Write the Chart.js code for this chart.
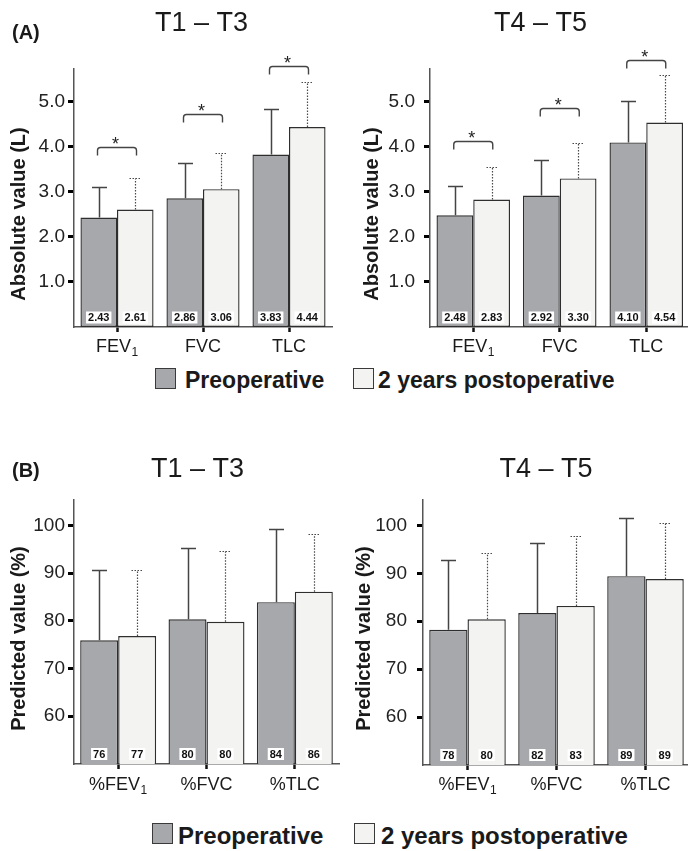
<!DOCTYPE html>
<html><head><meta charset="utf-8">
<script src="https://cdn.jsdelivr.net/npm/chart.js@4.4.1/dist/chart.umd.min.js"></script>
<style>
html,body{margin:0;padding:0;background:#fff;width:688px;height:851px;overflow:hidden;position:relative;font-family:"Liberation Sans",Arial,sans-serif;}
canvas{position:absolute;}
.sw{position:absolute;width:21px;height:21px;box-sizing:border-box;border:1.5px solid #3a3a3a;}
.lt{position:absolute;font-weight:bold;line-height:1;color:#1a1a1a;white-space:nowrap;}
</style></head><body>
<canvas id="cA1"></canvas>
<canvas id="cA2"></canvas>
<canvas id="cB1"></canvas>
<canvas id="cB2"></canvas>

<div class="sw" style="left:155px;top:368px;background:#a7a8ac"></div>
<div class="lt" style="left:185px;top:368.5px;font-size:23px">Preoperative</div>
<div class="sw" style="left:353px;top:368px;background:#f3f4f2"></div>
<div class="lt" style="left:378px;top:368.5px;font-size:23px">2 years postoperative</div>

<div class="sw" style="left:152px;top:823px;background:#a7a8ac"></div>
<div class="lt" style="left:178px;top:823.7px;font-size:24px">Preoperative</div>
<div class="sw" style="left:354px;top:823px;background:#f3f4f2"></div>
<div class="lt" style="left:381px;top:823.7px;font-size:24px">2 years postoperative</div>

<script>
// ---------- data ----------
const absCategories = ['FEV1', 'FVC', 'TLC'];
const predCategories = ['%FEV1', '%FVC', '%TLC'];
const absTicks = [1, 2, 3, 4, 5];
const predTicks = [60, 70, 80, 90, 100];
const groupTitles = ['T1 \u2013 T3', 'T4 \u2013 T5'];
const seriesNames = ['Preoperative', '2 years postoperative'];

// (A) absolute values (L): means and SD
const t13AbsPre = [2.43, 2.86, 3.83];
const t13AbsPost = [2.61, 3.06, 4.44];
const t13AbsPreSd = [0.67, 0.78, 1.02];
const t13AbsPostSd = [0.69, 0.81, 1.01];
const t13AbsSignif = [true, true, true];
const t13AbsBracketLevel = [4.00, 4.73, 5.80];

const t45AbsPre = [2.48, 2.92, 4.10];
const t45AbsPost = [2.83, 3.30, 4.54];
const t45AbsPreSd = [0.65, 0.79, 0.93];
const t45AbsPostSd = [0.72, 0.78, 1.05];
const t45AbsSignif = [true, true, true];
const t45AbsBracketLevel = [4.12, 4.86, 5.93];

// (B) predicted values (%): means and SD
const t13PredPre = [75.9, 80.3, 83.9];
const t13PredPost = [76.8, 79.8, 86.1];
const t13PredPreSd = [14.8, 14.9, 15.3];
const t13PredPostSd = [13.9, 14.9, 12.1];

const t45PredPre = [78.2, 81.7, 89.4];
const t45PredPost = [80.4, 83.2, 88.8];
const t45PredPreSd = [14.6, 14.6, 12.2];
const t45PredPostSd = [13.9, 14.6, 11.8];

// ---------- drawing ----------
const FONT = '"Liberation Sans", Arial, sans-serif';
const PRE_COLOR = '#a7a8ac';
const POST_COLOR = '#f3f4f2';
const EDGE = '#2e2e2e';

function makePanel(o) {
  const canvas = document.getElementById(o.id);
  canvas.width = o.w; canvas.height = o.h;
  canvas.style.left = o.ox + 'px'; canvas.style.top = o.oy + 'px';
  canvas.style.width = o.w + 'px'; canvas.style.height = o.h + 'px';

  const overlay = {
    id: 'overlay_' + o.id,
    afterDatasetsDraw(chart) {
      const ctx = chart.ctx, ys = chart.scales.y, xs = chart.scales.x;
      ctx.save();
      // error bars
      const sets = [[o.pre, o.preSd, false], [o.post, o.postSd, true]];
      sets.forEach((s, di) => {
        const meta = chart.getDatasetMeta(di);
        meta.data.forEach((bar, j) => {
          const x = Math.round(bar.x) + 0.5;
          const y0 = ys.getPixelForValue(s[0][j]);
          const y1 = Math.round(ys.getPixelForValue(s[0][j] + s[1][j])) + 0.5;
          ctx.beginPath();
          let cw;
          if (s[2]) { ctx.setLineDash([1.5, 1.5]); ctx.lineWidth = 1.2; ctx.strokeStyle = '#4a4a4a'; cw = 6; }
          else { ctx.setLineDash([]); ctx.lineWidth = 1.5; ctx.strokeStyle = '#444'; cw = 7.5; }
          ctx.moveTo(x, y0); ctx.lineTo(x, y1);
          ctx.moveTo(x - cw, y1); ctx.lineTo(x + cw, y1);
          ctx.stroke();
        });
      });
      ctx.setLineDash([]);
      // value labels at bar bottoms
      ctx.font = 'bold 11px ' + FONT;
      ctx.textAlign = 'center'; ctx.textBaseline = 'middle';
      [o.pre, o.post].forEach((vals, di) => {
        const meta = chart.getDatasetMeta(di);
        meta.data.forEach((bar, j) => {
          const t = o.fmt(vals[j]);
          const w = ctx.measureText(t).width;
          const cy = ys.getPixelForValue(o.min) - o.lblOff;
          ctx.fillStyle = '#fff';
          ctx.fillRect(bar.x - w / 2 - 2, cy - 6, w + 4, 12);
          ctx.fillStyle = '#111';
          ctx.fillText(t, bar.x, cy + 0.5);
        });
      });
      // significance brackets
      if (o.signif) {
        ctx.strokeStyle = '#444'; ctx.lineWidth = 1.4;
        ctx.fillStyle = '#222';
        ctx.font = '18px ' + FONT; ctx.textAlign = 'center'; ctx.textBaseline = 'alphabetic';
        o.signif.forEach((sig, j) => {
          if (!sig) return;
          const cx = xs.getPixelForValue(j);
          const y = Math.round(ys.getPixelForValue(o.bracket[j])) + 0.5;
          const hw = 19.5, r = 3, drop = 8;
          ctx.beginPath();
          ctx.moveTo(cx - hw, y + drop);
          ctx.lineTo(cx - hw, y + r);
          ctx.quadraticCurveTo(cx - hw, y, cx - hw + r, y);
          ctx.lineTo(cx + hw - r, y);
          ctx.quadraticCurveTo(cx + hw, y, cx + hw, y + r);
          ctx.lineTo(cx + hw, y + drop);
          ctx.stroke();
          ctx.fillText('*', cx - 1.5, y + 2.5);
        });
      }
      ctx.restore();
    },
    afterDraw(chart) {
      const ctx = chart.ctx, xs = chart.scales.x;
      ctx.save();
      ctx.fillStyle = '#1a1a1a';
      // panel title
      ctx.font = '27px ' + FONT; ctx.textAlign = 'center'; ctx.textBaseline = 'alphabetic';
      ctx.fillText(o.title, o.titleX - o.ox, o.titleY - o.oy);
      // panel letter
      if (o.letter) {
        ctx.font = 'bold 20px ' + FONT; ctx.textAlign = 'left';
        ctx.fillText(o.letter, 12 - o.ox, o.letterY - o.oy);
      }
      // y-axis title
      ctx.save();
      ctx.translate(o.yTitleX - o.ox, o.yTitleY - o.oy);
      ctx.rotate(-Math.PI / 2);
      ctx.font = 'bold 20px ' + FONT; ctx.textAlign = 'center'; ctx.textBaseline = 'alphabetic';
      ctx.fillText(o.yTitle, 0, 0);
      ctx.restore();
      // category labels with subscript digit
      ctx.textAlign = 'left';
      o.cats.forEach((lab, i) => {
        const m = lab.match(/^(.*?)(\d)$/);
        const main = m ? m[1] : lab, sub = m ? m[2] : '';
        ctx.font = '18px ' + FONT;
        const w1 = ctx.measureText(main).width;
        ctx.font = '12px ' + FONT;
        const w2 = sub ? ctx.measureText(sub).width + 0.5 : 0;
        const cx = xs.getPixelForValue(i);
        const sx = cx - (w1 + w2) / 2;
        const by = o.catBase - o.oy;
        ctx.font = '18px ' + FONT;
        ctx.fillText(main, sx, by);
        if (sub) { ctx.font = '12px ' + FONT; ctx.fillText(sub, sx + w1 + 0.5, by + 4); }
      });
      ctx.restore();
    }
  };

  return new Chart(canvas, {
    type: 'bar',
    data: {
      labels: o.cats,
      datasets: [
        { label: seriesNames[0], data: o.pre, backgroundColor: PRE_COLOR, borderColor: EDGE, borderWidth: 1.4,
          borderSkipped: false, categoryPercentage: o.cp, barPercentage: 1 },
        { label: seriesNames[1], data: o.post, backgroundColor: POST_COLOR, borderColor: EDGE, borderWidth: 1.4,
          borderSkipped: false, categoryPercentage: o.cp, barPercentage: 1 }
      ]
    },
    options: {
      responsive: false, animation: false, devicePixelRatio: 1,
      layout: { padding: o.pad },
      plugins: { legend: { display: false }, tooltip: { enabled: false }, title: { display: false } },
      scales: {
        x: {
          ticks: { display: false },
          grid: { offset: false, drawOnChartArea: false, drawTicks: true, tickLength: 5, tickWidth: 2.5, tickColor: '#111' },
          border: { display: true, color: '#555', width: 1.5 },
          afterFit: s => { s.height = 6; }
        },
        y: {
          min: o.min, max: o.max,
          afterBuildTicks: s => { s.ticks = o.ticks.map(v => ({ value: v })); },
          ticks: { font: { family: FONT, size: 19 }, color: '#222', padding: o.tickPad, callback: v => o.tickFmt(v) },
          grid: { drawOnChartArea: false, drawTicks: true, tickLength: 6, tickWidth: 3, tickColor: '#000' },
          border: { display: true, color: '#555', width: 1.5 },
          afterFit: s => { s.width = o.yw; }
        }
      }
    },
    plugins: [overlay]
  });
}

const fmtAbs = v => v.toFixed(2);
const fmtPred = v => String(Math.round(v));

makePanel({ id: 'cA1', ox: 0, oy: 0, w: 344, h: 360, pad: { left: 0, top: 69, right: 12, bottom: 27 }, yw: 74, cp: 0.85,
  cats: absCategories, pre: t13AbsPre, post: t13AbsPost, preSd: t13AbsPreSd, postSd: t13AbsPostSd,
  signif: t13AbsSignif, bracket: t13AbsBracketLevel,
  min: 0, max: 5.73, ticks: absTicks, tickFmt: v => v.toFixed(1), tickPad: 3, fmt: fmtAbs, lblOff: 9.5,
  title: groupTitles[0], titleX: 201.5, titleY: 30.7, letter: '(A)', letterY: 39,
  yTitle: 'Absolute value (L)', yTitleX: 25, yTitleY: 214, catBase: 352 });

makePanel({ id: 'cA2', ox: 344, oy: 0, w: 350, h: 360, pad: { left: 0, top: 69, right: 4.5, bottom: 27 }, yw: 86, cp: 0.85,
  cats: absCategories, pre: t45AbsPre, post: t45AbsPost, preSd: t45AbsPreSd, postSd: t45AbsPostSd,
  signif: t45AbsSignif, bracket: t45AbsBracketLevel,
  min: 0, max: 5.73, ticks: absTicks, tickFmt: v => v.toFixed(1), tickPad: 9, fmt: fmtAbs, lblOff: 9.5,
  title: groupTitles[1], titleX: 540.5, titleY: 30.7, letter: null,
  yTitle: 'Absolute value (L)', yTitleX: 378, yTitleY: 214, catBase: 352 });

makePanel({ id: 'cB1', ox: 0, oy: 430, w: 344, h: 370, pad: { left: 0, top: 70, right: 5, bottom: 30 }, yw: 74, cp: 0.86,
  cats: predCategories, pre: t13PredPre, post: t13PredPost, preSd: t13PredPreSd, postSd: t13PredPostSd,
  signif: null, bracket: null,
  min: 50, max: 105.3, ticks: predTicks, tickFmt: v => String(v), tickPad: 3, fmt: fmtPred, lblOff: 10,
  title: groupTitles[0], titleX: 197.5, titleY: 476.7, letter: '(B)', letterY: 477,
  yTitle: 'Predicted value (%)', yTitleX: 25, yTitleY: 638.5, catBase: 790 });

makePanel({ id: 'cB2', ox: 344, oy: 430, w: 350, h: 370, pad: { left: 0, top: 70, right: 4, bottom: 29 }, yw: 79, cp: 0.86,
  cats: predCategories, pre: t45PredPre, post: t45PredPost, preSd: t45PredPreSd, postSd: t45PredPostSd,
  signif: null, bracket: null,
  min: 50, max: 105.3, ticks: predTicks, tickFmt: v => String(v), tickPad: 10, fmt: fmtPred, lblOff: 10,
  title: groupTitles[1], titleX: 546, titleY: 476.7, letter: null,
  yTitle: 'Predicted value (%)', yTitleX: 370, yTitleY: 638.5, catBase: 790 });
</script>
</body></html>
